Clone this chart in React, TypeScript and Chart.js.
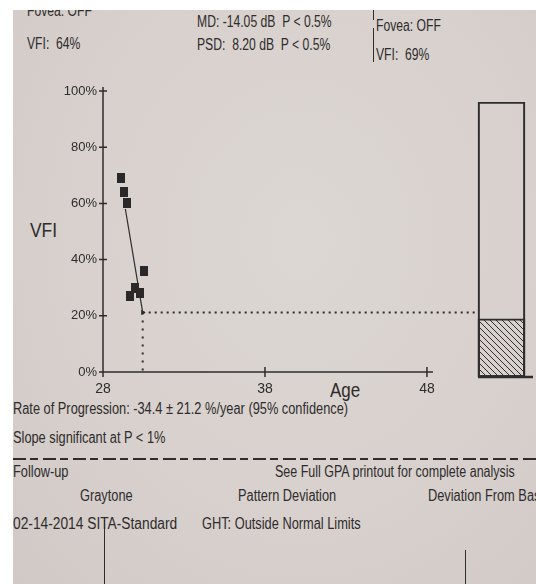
import React, { useEffect, useRef } from "react";
import { Chart, registerables } from "chart.js";

Chart.register(...registerables);

// Visit history: age (years) and Visual Field Index (%)
const VISIT_AGES = [29.14, 29.28, 29.49, 29.65, 29.95, 30.27, 30.54];
const VISIT_VFI = [69, 64, 60, 27, 30, 28, 36];

// Axis ticks
const Y_TICKS = [0, 20, 40, 60, 80, 100];
const X_TICKS = [28, 38, 48];
const X_MIN = 28;
const X_MAX = 51.09;

// Trend (rate of progression, %/year) and its projection
const RATE_PER_YEAR = -34.4;
const TREND_START_AGE = 29.38;
const TREND_START_VFI = 58;
const TREND_END_AGE = 30.45;
const PROJECTED_VFI = TREND_START_VFI + RATE_PER_YEAR * (TREND_END_AGE - TREND_START_AGE);

// Bar panel (full scale and projected VFI)
const BAR_FULL = [100];
const BAR_PROJECTED = [PROJECTED_VFI];

const FONT = "'Liberation Sans', Arial, sans-serif";
const INK = "#2e2c2c";
const PAPER = "#d7d0cc";

function makeSquare(): HTMLCanvasElement {
  const c = document.createElement("canvas");
  c.width = 8;
  c.height = 10;
  const g = c.getContext("2d")!;
  g.fillStyle = "#2a2828";
  g.fillRect(0, 0, 8, 10);
  return c;
}

function makeHatch(): CanvasPattern {
  const c = document.createElement("canvas");
  c.width = 6;
  c.height = 6;
  const g = c.getContext("2d")!;
  g.strokeStyle = INK;
  g.lineWidth = 1;
  g.beginPath();
  g.moveTo(-1, -1);
  g.lineTo(7, 7);
  g.moveTo(-1, 5);
  g.lineTo(1, 7);
  g.moveTo(5, -1);
  g.lineTo(7, 1);
  g.stroke();
  return g.createPattern(c, "repeat")!;
}

// Axis lines with "+" style tick marks crossing the axes
const axesPlugin = {
  id: "gpaAxes",
  afterDatasetsDraw(chart: any) {
    const { ctx } = chart;
    const x = chart.scales.x;
    const y = chart.scales.y;
    const x0 = x.getPixelForValue(X_TICKS[0]);
    const y0 = y.getPixelForValue(0);
    ctx.save();
    ctx.strokeStyle = INK;
    ctx.lineWidth = 1.5;
    ctx.beginPath();
    ctx.moveTo(x0, y0);
    ctx.lineTo(x0, y.getPixelForValue(100) - 4);
    ctx.moveTo(x0, y0);
    ctx.lineTo(x.getPixelForValue(X_TICKS[X_TICKS.length - 1]) + 6, y0);
    for (const v of Y_TICKS) {
      const py = y.getPixelForValue(v);
      ctx.moveTo(x0 - 4, py);
      ctx.lineTo(x0 + 4, py);
    }
    for (const v of X_TICKS) {
      const px = x.getPixelForValue(v);
      ctx.moveTo(px, y0 - 5);
      ctx.lineTo(px, y0 + 5);
    }
    ctx.stroke();
    ctx.restore();
  },
};

// Heavy base line under the bar panel
const baseLinePlugin = {
  id: "barBase",
  afterDatasetsDraw(chart: any) {
    const { ctx } = chart;
    const y = chart.scales.y;
    const el = chart.getDatasetMeta(0).data[0];
    if (!el) return;
    const { x, width } = el.getProps(["x", "width"], true);
    const y0 = y.getPixelForValue(0);
    ctx.save();
    ctx.strokeStyle = INK;
    ctx.lineWidth = 2.5;
    ctx.beginPath();
    ctx.moveTo(x - width / 2, y0);
    ctx.lineTo(x + width / 2 + 8, y0);
    ctx.stroke();
    ctx.restore();
  },
};

function Txt(props: { x: number; base: number; size?: number; sx?: number; children: React.ReactNode }) {
  const size = props.size ?? 16;
  const sx = props.sx ?? 0.8;
  return (
    <div
      style={{
        position: "absolute",
        left: props.x,
        top: props.base - 0.8465 * size,
        fontFamily: FONT,
        fontSize: size,
        lineHeight: 1,
        whiteSpace: "pre",
        color: INK,
        transform: `scaleX(${sx})`,
        transformOrigin: "0 0",
      }}
    >
      {props.children}
    </div>
  );
}

export default function App() {
  const mainRef = useRef<HTMLCanvasElement>(null);
  const barRef = useRef<HTMLCanvasElement>(null);

  useEffect(() => {
    const square = makeSquare();
    const hatch = makeHatch();

    const main = new Chart(mainRef.current!, {
      type: "scatter",
      data: {
        datasets: [
          {
            type: "line",
            data: [
              { x: TREND_START_AGE, y: TREND_START_VFI },
              { x: TREND_END_AGE, y: PROJECTED_VFI },
            ],
            borderColor: INK,
            borderWidth: 1.2,
            pointRadius: 0,
          },
          {
            type: "line",
            data: [
              { x: TREND_END_AGE, y: PROJECTED_VFI },
              { x: X_MAX, y: PROJECTED_VFI },
            ],
            borderColor: INK,
            borderWidth: 2,
            borderDash: [2, 4],
            pointRadius: [3, 0],
            pointStyle: "triangle",
            pointRotation: 90,
            pointBackgroundColor: INK,
            pointBorderWidth: 0,
          },
          {
            type: "line",
            data: [
              { x: TREND_END_AGE, y: PROJECTED_VFI },
              { x: TREND_END_AGE, y: 0 },
            ],
            borderColor: INK,
            borderWidth: 2,
            borderDash: [2, 6],
            pointRadius: 0,
          },
          {
            type: "scatter",
            data: VISIT_AGES.map((a, i) => ({ x: a, y: VISIT_VFI[i] })),
            pointStyle: square as any,
            pointRadius: 5,
          },
        ],
      } as any,
      options: {
        animation: false,
        responsive: false,
        maintainAspectRatio: false,
        layout: { padding: { left: 0, top: 91, right: 59, bottom: 0 } },
        plugins: { legend: { display: false }, tooltip: { enabled: false } },
        scales: {
          x: {
            type: "linear",
            min: X_MIN,
            max: X_MAX,
            grid: { display: false, drawTicks: false },
            border: { display: false },
            afterBuildTicks: (s: any) => {
              s.ticks = X_TICKS.map((v) => ({ value: v }));
            },
            afterFit: (s: any) => {
              s.height = 212;
            },
            ticks: {
              padding: 9,
              color: INK,
              autoSkip: false,
              maxRotation: 0,
              font: { family: FONT, size: 14 },
              callback: (v: any) => String(v),
            },
          },
          y: {
            type: "linear",
            min: 0,
            max: 100,
            grid: { display: false, drawTicks: false },
            border: { display: false },
            afterBuildTicks: (s: any) => {
              s.ticks = Y_TICKS.map((v) => ({ value: v }));
            },
            afterFit: (s: any) => {
              s.width = 103;
            },
            ticks: {
              padding: 6,
              color: INK,
              font: { family: FONT, size: 13 },
              callback: (v: any) => v + "%",
            },
          },
        },
      } as any,
      plugins: [axesPlugin],
    });

    const bar = new Chart(barRef.current!, {
      type: "bar",
      data: {
        labels: [""],
        datasets: [
          {
            data: BAR_PROJECTED,
            backgroundColor: hatch as any,
            borderColor: INK,
            borderWidth: 1.5,
            borderSkipped: false,
            grouped: false,
            barThickness: 47,
            order: 1,
          },
          {
            data: BAR_FULL,
            backgroundColor: "rgba(0,0,0,0)",
            borderColor: INK,
            borderWidth: 1.5,
            borderSkipped: false,
            grouped: false,
            barThickness: 47,
            order: 2,
          },
        ],
      } as any,
      options: {
        animation: false,
        responsive: false,
        maintainAspectRatio: false,
        layout: { padding: { left: 0, top: 12, right: 3, bottom: 13 } },
        plugins: { legend: { display: false }, tooltip: { enabled: false } },
        scales: {
          x: { display: false },
          y: { display: false, min: 0, max: 100 },
        },
      } as any,
      plugins: [baseLinePlugin],
    });

    return () => {
      main.destroy();
      bar.destroy();
    };
  }, []);

  return (
    <div style={{ position: "absolute", left: 0, top: 0, width: 536, height: 584, background: "#ffffff", overflow: "hidden" }}>
      <div
        style={{
          position: "absolute",
          left: 13,
          top: 10,
          width: 523,
          height: 574,
          overflow: "hidden",
          background: `radial-gradient(ellipse at 55% 40%, #ddd7d3 0%, ${PAPER} 60%, #d1c9c5 100%)`,
        }}
      >
        <div style={{ position: "absolute", left: -13, top: -10, width: 536, height: 584 }}>
          <Txt x={27} base={17} sx={0.76}>Fovea: OFF</Txt>
          <Txt x={27} base={50} sx={0.76}>VFI:  64%</Txt>
          <Txt x={197} base={28} sx={0.76}>MD: -14.05 dB  P &lt; 0.5%</Txt>
          <Txt x={197} base={51} sx={0.76}>PSD:  8.20 dB  P &lt; 0.5%</Txt>
          <div style={{ position: "absolute", left: 373, top: 10, width: 1, height: 10, background: INK }} />
          <div style={{ position: "absolute", left: 373, top: 28, width: 1, height: 34, background: INK }} />
          <Txt x={376} base={32} sx={0.76}>Fovea: OFF</Txt>
          <Txt x={376} base={61} sx={0.76}>VFI:  69%</Txt>

          <Txt x={30} base={237} size={20} sx={0.87}>VFI</Txt>
          <Txt x={330} base={397} size={20} sx={0.85}>Age</Txt>

          <Txt x={13} base={415}>Rate of Progression: -34.4 ± 21.2 %/year (95% confidence)</Txt>
          <Txt x={13} base={444}>Slope significant at P &lt; 1%</Txt>
          <div
            style={{
              position: "absolute",
              left: 13,
              top: 458,
              width: 523,
              height: 2,
              background: `repeating-linear-gradient(to right, ${INK} 0 13px, transparent 13px 17px, ${INK} 17px 25px, transparent 25px 30px)`,
            }}
          />
          <Txt x={13} base={478}>Follow-up</Txt>
          <Txt x={275} base={478} sx={0.78}>See Full GPA printout for complete analysis</Txt>
          <Txt x={80} base={502}>Graytone</Txt>
          <Txt x={238} base={502}>Pattern Deviation</Txt>
          <Txt x={428} base={502}>Deviation From Base</Txt>
          <Txt x={13} base={530} sx={0.86}>02-14-2014 SITA-Standard</Txt>
          <Txt x={202} base={530}>GHT: Outside Normal Limits</Txt>
          <div style={{ position: "absolute", left: 104, top: 520, width: 1, height: 64, background: INK }} />
          <div style={{ position: "absolute", left: 465, top: 550, width: 1, height: 34, background: INK }} />
        </div>
      </div>
      <canvas ref={mainRef} width={536} height={584} style={{ position: "absolute", left: 0, top: 0 }} />
      <canvas ref={barRef} width={66} height={300} style={{ position: "absolute", left: 470, top: 90 }} />
    </div>
  );
}
